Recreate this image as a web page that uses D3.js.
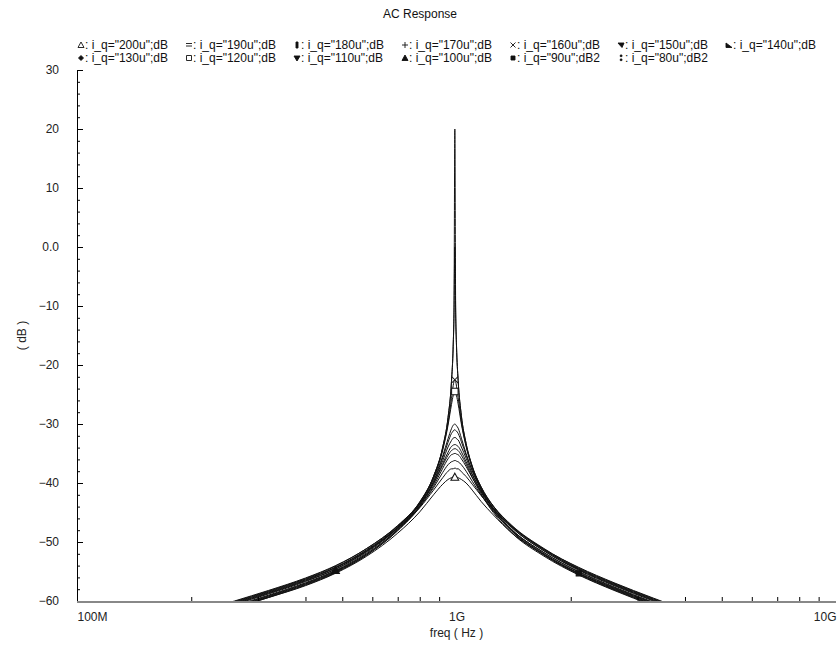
<!DOCTYPE html>
<html>
<head>
<meta charset="utf-8">
<script src="https://cdn.jsdelivr.net/npm/d3@7"></script>
<style>
  body { margin: 0; background: #fff; }
  svg text { font-family: "Liberation Sans", Arial, sans-serif; font-size: 12px; }
</style>
</head>
<body>
<div id="chart"></div>
<script>
// frequency grid (GHz) shared by every trace
const freqGHz = [0.2, 0.26, 0.32, 0.4, 0.48, 0.58, 0.7, 0.8, 0.87, 0.92, 0.95, 0.97, 0.98, 0.985,
                 0.99, 0.995, 1.0, 1.01, 1.03, 1.06, 1.1, 1.16, 1.25, 1.4, 1.7, 2.1, 2.6, 3.3, 4.2];

// legend names, in legend order
const seriesNames = [
  'i_q="200u";dB', 'i_q="190u";dB', 'i_q="180u";dB', 'i_q="170u";dB', 'i_q="160u";dB',
  'i_q="150u";dB', 'i_q="140u";dB', 'i_q="130u";dB', 'i_q="120u";dB', 'i_q="110u";dB',
  'i_q="100u";dB', 'i_q="90u";dB2', 'i_q="80u";dB2'
];

// dB values, one array per trace
const dB_200u = [-63.4,-61.2,-59.4,-57.4,-55.3,-52.4,-48.5,-44.9,-42.0,-40.2,-39.4,-39.1,-39.0,-39.0,-39.0,-39.0,-39.0,-39.1,-39.4,-40.0,-41.2,-43.1,-45.4,-48.5,-52.1,-55.3,-57.8,-60.4,-62.9];
const dB_190u = [-62.4,-60.2,-58.4,-56.3,-54.3,-51.4,-47.6,-44.2,-41.2,-39.1,-38.0,-37.6,-37.6,-37.5,-37.5,-37.5,-37.6,-37.6,-38.1,-38.9,-40.2,-42.1,-44.5,-47.4,-51.2,-54.3,-56.9,-59.5,-62.0];
const dB_180u = [-62.7,-60.5,-58.7,-56.6,-54.6,-51.6,-47.7,-44.0,-40.8,-38.2,-36.9,-36.4,-36.3,-36.2,-36.2,-36.2,-36.3,-36.4,-36.9,-38.0,-39.7,-42.0,-44.8,-48.0,-51.8,-55.0,-57.6,-60.2,-62.7];
const dB_170u = [-63.3,-61.1,-59.3,-57.2,-55.1,-52.2,-48.1,-44.1,-40.5,-37.5,-35.9,-35.2,-35.1,-35.0,-35.0,-35.0,-35.1,-35.2,-35.9,-37.2,-39.1,-41.5,-44.3,-47.4,-51.3,-54.5,-57.1,-59.7,-62.2];
const dB_160u = [-62.5,-60.3,-58.5,-56.4,-54.3,-51.3,-47.3,-43.2,-38.9,-34.2,-29.8,-25.7,-23.5,-22.8,-22.5,-22.8,-23.6,-25.5,-29.6,-33.7,-37.4,-41.0,-44.5,-48.2,-52.2,-55.5,-58.1,-60.7,-63.2];
const dB_150u = [-62.2,-60.0,-58.2,-56.1,-54.0,-51.1,-47.3,-43.6,-40.1,-37.0,-35.3,-34.5,-34.3,-34.2,-34.2,-34.2,-34.3,-34.5,-35.3,-36.8,-39.0,-41.8,-45.0,-48.5,-52.4,-55.6,-58.2,-60.8,-63.3];
const dB_140u = [-63.1,-60.9,-59.1,-57.0,-54.9,-52.0,-47.9,-43.9,-40.1,-36.7,-34.8,-33.8,-33.6,-33.5,-33.5,-33.5,-33.6,-33.8,-34.7,-36.4,-38.6,-41.3,-44.3,-47.6,-51.5,-54.7,-57.3,-59.9,-62.4];
const dB_130u = [-62.6,-60.4,-58.6,-56.5,-54.4,-51.5,-47.5,-43.6,-39.8,-36.2,-33.9,-32.8,-32.4,-32.3,-32.3,-32.3,-32.5,-32.7,-33.9,-35.8,-38.4,-41.5,-44.7,-48.2,-52.2,-55.4,-58.0,-60.6,-63.1];
const dB_120u = [-63.2,-61.0,-59.2,-57.1,-55.0,-52.0,-47.8,-43.5,-39.2,-34.4,-30.2,-26.7,-25.2,-24.7,-24.5,-24.7,-25.2,-26.6,-30.0,-33.8,-37.3,-40.6,-43.9,-47.3,-51.3,-54.6,-57.2,-59.8,-62.3];
const dB_110u = [-63.4,-61.2,-59.4,-57.3,-55.2,-52.2,-48.0,-43.8,-39.7,-35.7,-33.1,-31.6,-31.2,-31.0,-31.0,-31.1,-31.2,-31.6,-33.0,-35.3,-37.9,-40.9,-43.9,-47.2,-51.1,-54.4,-57.0,-59.6,-62.1];
const dB_100u = [-63.0,-60.8,-59.0,-56.9,-54.8,-51.8,-47.6,-43.4,-38.9,-33.9,-28.9,-22.8,-16.9,-11.1,0.0,-11.1,-16.8,-22.6,-28.6,-33.3,-37.1,-40.6,-44.0,-47.5,-51.5,-54.8,-57.4,-60.0,-62.5];
const dB_90u  = [-62.8,-60.6,-58.8,-56.7,-54.6,-51.6,-47.5,-43.3,-38.9,-33.9,-28.9,-22.8,-16.8,-10.7,20.0,-10.7,-16.7,-22.6,-28.6,-33.3,-37.2,-40.8,-44.3,-48.0,-52.0,-55.3,-57.9,-60.5,-63.0];
const dB_80u  = [-62.3,-60.1,-58.3,-56.2,-54.1,-51.1,-47.2,-43.3,-39.3,-35.4,-32.5,-30.8,-30.2,-30.1,-30.0,-30.1,-30.3,-30.7,-32.4,-35.0,-37.9,-41.1,-44.3,-47.9,-51.8,-55.1,-57.7,-60.3,-62.8];

const seriesValues = [dB_200u, dB_190u, dB_180u, dB_170u, dB_160u, dB_150u, dB_140u,
                      dB_130u, dB_120u, dB_110u, dB_100u, dB_90u, dB_80u];

// marker glyph per trace and the grid point where it shows on the plot (null = none)
const markerTypes = ['tri', 'bars', 'vbar', 'plus', 'times', 'triDR', 'triDL',
                     'diamond', 'square', 'triDown', 'triUp', 'sqFill', 'dots'];
const markerIndex = [14, null, null, null, 14, null, null, null, 14, null, 4, 25, null];

// axis ticks
const yMajorTicks  = [30, 20, 10, 0, -10, -20, -30, -40, -50, -60];
const yTickLabels  = ['30', '20', '10', '0.0', '\u221210', '\u221220', '\u221230', '\u221240', '\u221250', '\u221260'];
const xMajorTicks  = [1e8, 1e9, 1e10];
const xTickLabels  = ['100M', '1G', '10G'];

const W = 840, H = 651;
const m = { left: 77, right: 4, top: 70, bottom: 50 };

const svg = d3.select('#chart').append('svg')
  .attr('width', W).attr('height', H);

const x = d3.scaleLog().domain([1e8, 1e10]).range([m.left, W - m.right]);
const y = d3.scaleLinear().domain([-60, 30]).range([H - m.bottom, m.top]);

// title
svg.append('text')
  .attr('x', 420).attr('y', 18)
  .attr('text-anchor', 'middle')
  .attr('fill', '#111')
  .text('AC Response');

// marker shapes (small, drawn around 0,0)
function markerPath(t) {
  switch (t) {
    case 'tri':     return 'M0,-3L3,2.5L-3,2.5Z';
    case 'bars':    return 'M-3,-1.5H3M-3,1H3';
    case 'vbar':    return 'M-1,-3h2v6h-2Z';
    case 'plus':    return 'M-3,0H3M0,-3V3';
    case 'times':   return 'M-2.5,-2.5L2.5,2.5M-2.5,2.5L2.5,-2.5';
    case 'triDR':   return 'M-3,-2H3L1,2.5Z';
    case 'triDL':   return 'M-3,-2L-3,2.5H3Z';
    case 'diamond': return 'M0,-2.5L2.5,0L0,2.5L-2.5,0Z';
    case 'square':  return 'M-2.5,-2.5h5v5h-5Z';
    case 'triDown': return 'M-3,-2H3L0,3Z';
    case 'triUp':   return 'M0,-3L3,2.5H-3Z';
    case 'sqFill':  return 'M-2,-2h4v4h-4Z';
    case 'dots':    return 'M-0.7,-3h1.6v1.6h-1.6ZM-0.7,1h1.6v1.6h-1.6Z';
  }
  return '';
}
const filledMarker = t => ['vbar', 'triDR', 'triDL', 'diamond', 'triDown', 'triUp', 'sqFill', 'dots'].includes(t);

// legend: two rows of fixed-width columns
const legendX0 = 81, colW = 108, rowY = [49, 62];
const legend = svg.append('g').attr('class', 'legend');
seriesNames.forEach((name, i) => {
  const cx = legendX0 + (i % 7) * colW;
  const cy = rowY[Math.floor(i / 7)];
  const t = markerTypes[i];
  legend.append('path')
    .attr('transform', `translate(${cx},${cy - 4})`)
    .attr('d', markerPath(t))
    .attr('fill', filledMarker(t) ? '#111' : 'none')
    .attr('stroke', '#111')
    .attr('stroke-width', 0.9);
  legend.append('text')
    .attr('x', cx + 4).attr('y', cy)
    .attr('fill', '#111')
    .text(': ' + name);
});

// clip to the plot box
svg.append('clipPath').attr('id', 'plot-clip')
  .append('rect')
  .attr('x', m.left).attr('y', m.top)
  .attr('width', W - m.right - m.left).attr('height', H - m.bottom - m.top);

const plot = svg.append('g').attr('clip-path', 'url(#plot-clip)');

const line = d3.line()
  .x((d, i) => x(freqGHz[i] * 1e9))
  .y(d => y(d))
  .curve(d3.curveMonotoneX);

plot.selectAll('.trace')
  .data(seriesValues)
  .join('path')
    .attr('class', 'trace')
    .attr('d', d => line(d))
    .attr('fill', 'none')
    .attr('stroke', '#111')
    .attr('stroke-width', 1);

// trace markers
seriesValues.forEach((vals, i) => {
  const k = markerIndex[i];
  if (k === null) return;
  const t = markerTypes[i];
  plot.append('path')
    .attr('transform', `translate(${x(freqGHz[k] * 1e9)},${y(vals[k])}) scale(1.3)`)
    .attr('d', markerPath(t))
    .attr('fill', filledMarker(t) ? '#111' : '#fff')
    .attr('stroke', '#111')
    .attr('stroke-width', 0.8);
});

// --- Y axis: ticks point into the plot ---
const yMinor = d3.range(-60, 31, 2);
svg.append('g')
  .attr('transform', `translate(${m.left},0)`)
  .call(d3.axisRight(y).tickValues(yMinor).tickSize(3).tickFormat(''))
  .call(g => g.select('.domain').remove());
svg.append('g')
  .attr('transform', `translate(${m.left},0)`)
  .call(d3.axisRight(y).tickValues(yMajorTicks).tickSize(6).tickFormat(''))
  .call(g => g.select('.domain').remove());
svg.append('line')
  .attr('x1', m.left + 0.5).attr('x2', m.left + 0.5)
  .attr('y1', y(30)).attr('y2', y(-60))
  .attr('stroke', '#000');
svg.append('g')
  .attr('transform', `translate(${m.left},0)`)
  .call(d3.axisLeft(y).tickValues(yMajorTicks).tickSize(0).tickPadding(18)
    .tickFormat((d, i) => yTickLabels[i]))
  .call(g => g.select('.domain').remove())
  .call(g => g.selectAll('text')
    .attr('fill', '#222')
    .style('font-size', '12px')
    .style('font-family', '"Liberation Sans", Arial, sans-serif'));

svg.append('text')
  .attr('transform', `translate(22,${y(-15)}) rotate(-90)`)
  .attr('text-anchor', 'middle')
  .attr('dy', '0.35em')
  .attr('fill', '#222')
  .text('( dB )');

// --- X axis: log minor ticks pointing up, grey base line ---
const xMinor = [];
[1e8, 1e9].forEach(dec => { for (let k = 2; k <= 9; k++) xMinor.push(k * dec); });
svg.append('g')
  .attr('transform', `translate(0,${y(-60)})`)
  .call(d3.axisTop(x).tickValues(xMinor).tickSize(4).tickFormat(''))
  .call(g => g.select('.domain').remove());
svg.append('line')
  .attr('x1', m.left).attr('x2', W - m.right)
  .attr('y1', y(-60) + 1).attr('y2', y(-60) + 1)
  .attr('stroke', '#888').attr('stroke-width', 2);

svg.append('g')
  .attr('transform', `translate(0,${y(-60)})`)
  .call(d3.axisBottom(x).tickValues(xMajorTicks).tickSize(0).tickPadding(11)
    .tickFormat((d, i) => xTickLabels[i]))
  .call(g => g.select('.domain').remove())
  .call(g => g.selectAll('text')
    .attr('fill', '#222')
    .style('font-size', '12px')
    .style('font-family', '"Liberation Sans", Arial, sans-serif')
    .attr('text-anchor', (d, i) => i === 0 ? 'start' : (i === 2 ? 'end' : 'middle')));

svg.append('text')
  .attr('x', x(1e9)).attr('y', 637)
  .attr('text-anchor', 'middle')
  .attr('fill', '#222')
  .text('freq ( Hz )');
</script>
</body>
</html>
